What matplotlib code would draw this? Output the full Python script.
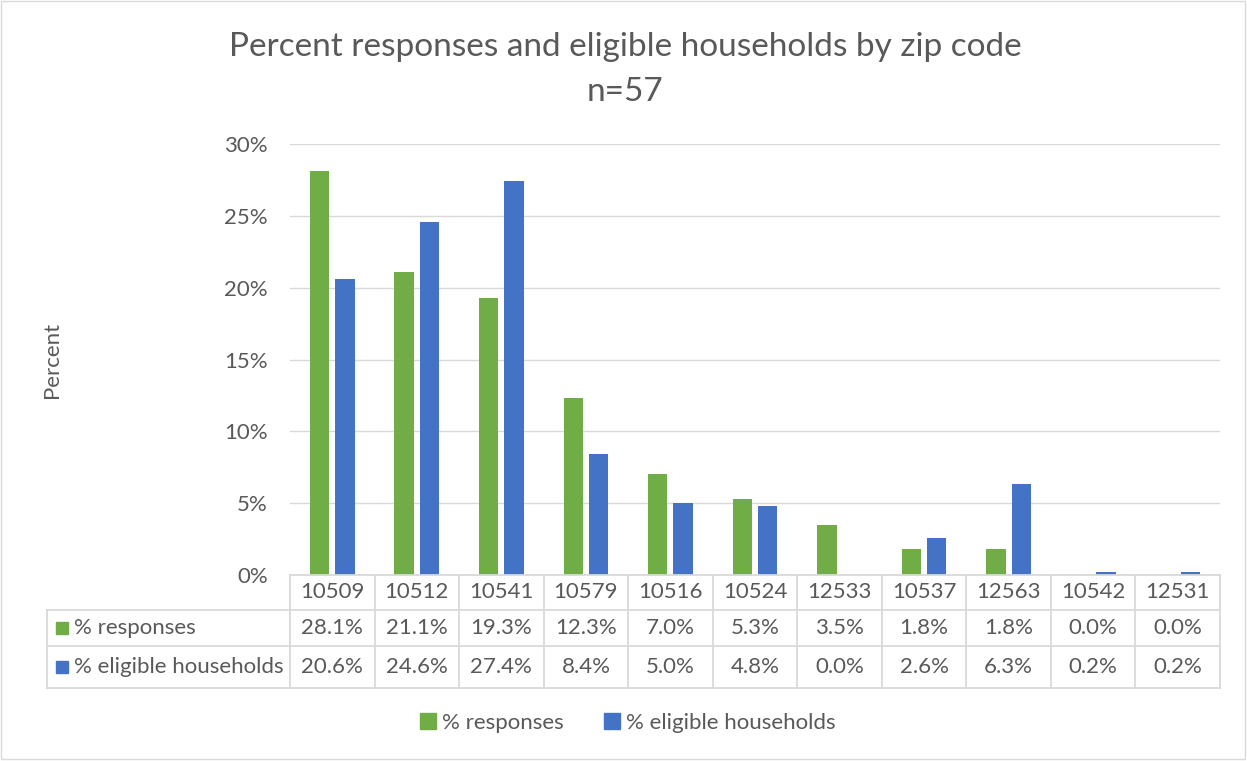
import numpy as np
import matplotlib.pyplot as plt
from matplotlib.patches import Patch, Rectangle
import matplotlib.transforms as mtransforms

plt.rcParams['font.family'] = ['Lato', 'DejaVu Sans']

zips = ['10509', '10512', '10541', '10579', '10516', '10524', '12533', '10537', '12563', '10542', '12531']
responses = [28.1, 21.1, 19.3, 12.3, 7.0, 5.3, 3.5, 1.8, 1.8, 0.0, 0.0]
eligible = [20.6, 24.6, 27.4, 8.4, 5.0, 4.8, 0.0, 2.6, 6.3, 0.2, 0.2]
series_names = ['% responses', '% eligible households']

green = '#70AD47'
blue = '#4472C4'
txt = '#595959'
gridc = '#D9D9D9'
fs = 16

W, H = 1247, 761
fig = plt.figure(figsize=(W/100, H/100), dpi=100)

# plot area in pixels
x0, x1, ytop, ybot = 290, 1220, 144, 575
ax = fig.add_axes([x0/W, 1-ybot/H, (x1-x0)/W, (ybot-ytop)/H])

x = np.arange(len(zips))
ax.bar(x-0.15, responses, width=0.23, color=green)
ax.bar(x+0.15, eligible, width=0.23, color=blue)

ax.set_xlim(-0.5, len(zips)-0.5)
ax.set_ylim(0, 30)
ax.set_yticks(np.arange(0, 31, 5))
ax.set_yticklabels(['%d%%' % v for v in range(0, 31, 5)])
ax.tick_params(axis='y', length=0, pad=16, labelsize=fs, labelcolor=txt)
ax.set_xticks([])
ax.grid(axis='y', color=gridc, linewidth=1)
ax.set_axisbelow(True)
for s in ax.spines.values():
    s.set_visible(False)

ax.set_ylabel('Percent', fontsize=fs, color=txt, labelpad=0)
ax.yaxis.set_label_coords((62-x0)/(x1-x0), 0.5)

# data table under the axis
ah = ybot - ytop
aw = x1 - x0
def fy(py):
    return (ybot - py)/ah
left = (47 - x0)/aw
n = len(zips)
lk = dict(color=gridc, linewidth=1.3, transform=ax.transAxes, clip_on=False)
ax.plot([0, 1], [0, 0], **lk)
for py in [610, 646, 688]:
    ax.plot([left, 1], [fy(py), fy(py)], **lk)
for i in range(n+1):
    ax.plot([i/n, i/n], [0, fy(688)], **lk)
ax.plot([left, left], [fy(610), fy(688)], **lk)

blend = mtransforms.blended_transform_factory(ax.transData, ax.transAxes)
for i, z in enumerate(zips):
    ax.text(i, fy(592), z, ha='center', va='center', fontsize=fs, color=txt, transform=blend)
    ax.text(i, fy(628), '%.1f%%' % responses[i], ha='center', va='center', fontsize=fs, color=txt, transform=blend)
    ax.text(i, fy(667), '%.1f%%' % eligible[i], ha='center', va='center', fontsize=fs, color=txt, transform=blend)

for py, c, name in [(628, green, series_names[0]), (667, blue, series_names[1])]:
    ax.add_patch(Rectangle(((56-x0)/aw, fy(py+6)), 12/aw, 12/ah, color=c,
                           transform=ax.transAxes, clip_on=False))
    ax.text((74-x0)/aw, fy(py), name, ha='left', va='center', fontsize=fs, color=txt,
            transform=ax.transAxes)

fig.text(625/W, 1-47/H, 'Percent responses and eligible households by zip code',
         ha='center', va='center', fontsize=24, color=txt)
fig.text(625/W, 1-92/H, 'n=57', ha='center', va='center', fontsize=24, color=txt)

handles = [Patch(color=green, label=series_names[0]), Patch(color=blue, label=series_names[1])]
leg = fig.legend(handles=handles, loc='center', bbox_to_anchor=(628/W, 1-723/H), ncol=2,
                 frameon=False, fontsize=fs, handlelength=0.7, handleheight=0.7,
                 handletextpad=0.3, columnspacing=1.8)
for t in leg.get_texts():
    t.set_color(txt)

fig.patches.append(Rectangle((1/W, 2/H), 1-3/W, 1-3/H, fill=False, edgecolor=gridc,
                             linewidth=1, transform=fig.transFigure))

fig.savefig('out.png', dpi=100)
